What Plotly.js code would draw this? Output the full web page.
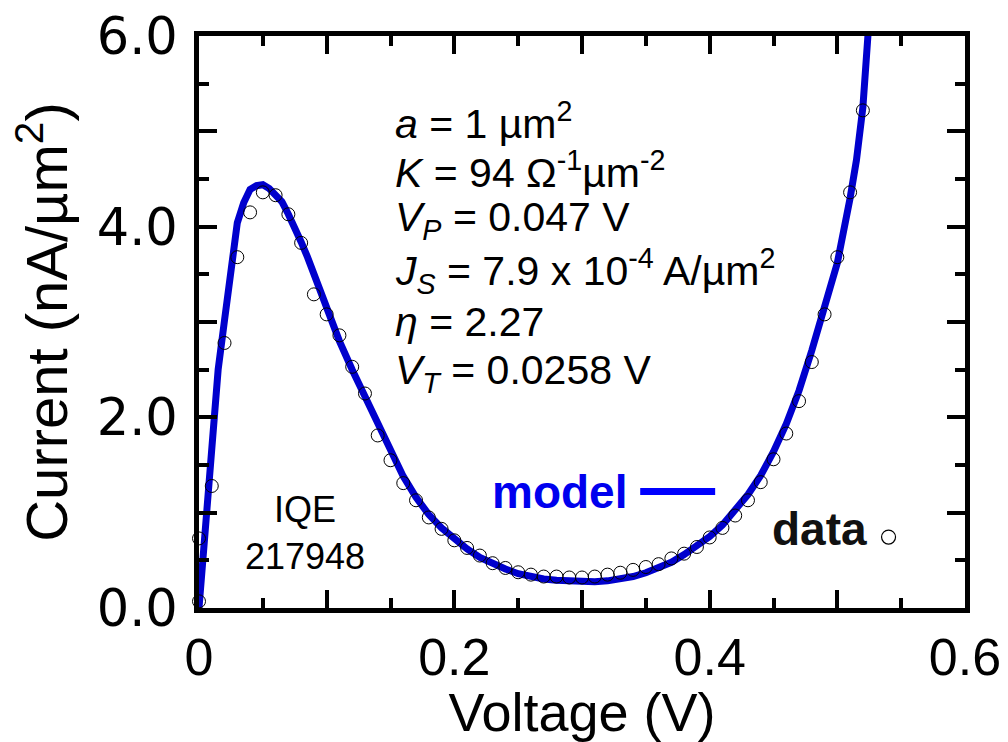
<!DOCTYPE html>
<html>
<head>
<meta charset="utf-8">
<script src="https://cdn.plot.ly/plotly-3.0.1.min.js"></script>
<style>html,body{margin:0;padding:0;background:#fff;}#chart{width:1008px;height:742px;}</style>
</head>
<body>
<div id="chart"></div>
<script>
// Measured data (Voltage in V, Current in nA/µm²)
const dataV = [0, 0, 0.01, 0.02, 0.03, 0.04, 0.05, 0.06, 0.07, 0.08, 0.09, 0.10, 0.11, 0.12, 0.13, 0.14, 0.15, 0.16, 0.17, 0.18, 0.19, 0.20, 0.21, 0.22, 0.23, 0.24, 0.25, 0.26, 0.27, 0.28, 0.29, 0.30, 0.31, 0.32, 0.33, 0.34, 0.35, 0.36, 0.37, 0.38, 0.39, 0.40, 0.41, 0.42, 0.43, 0.44, 0.45, 0.46, 0.47, 0.48, 0.49, 0.50, 0.51, 0.52];
const dataJ = [0.07, 0.73, 1.28, 2.78, 3.68, 4.15, 4.36, 4.33, 4.13, 3.83, 3.29, 3.08, 2.86, 2.53, 2.25, 1.81, 1.55, 1.31, 1.13, 0.95, 0.83, 0.71, 0.63, 0.55, 0.47, 0.42, 0.375, 0.35, 0.33, 0.33, 0.32, 0.32, 0.33, 0.35, 0.37, 0.40, 0.43, 0.46, 0.52, 0.57, 0.64, 0.74, 0.84, 0.97, 1.13, 1.32, 1.56, 1.83, 2.17, 2.58, 3.08, 3.68, 4.36, 5.22];

// Model curve
const modelV = [0, 0.005, 0.01, 0.015, 0.02, 0.025, 0.03, 0.035, 0.04, 0.045, 0.05, 0.055, 0.06, 0.065, 0.07, 0.075, 0.08, 0.085, 0.09, 0.095, 0.10, 0.11, 0.12, 0.13, 0.14, 0.15, 0.16, 0.17, 0.18, 0.19, 0.20, 0.21, 0.22, 0.23, 0.24, 0.25, 0.26, 0.27, 0.28, 0.29, 0.30, 0.31, 0.32, 0.33, 0.34, 0.35, 0.36, 0.37, 0.38, 0.39, 0.40, 0.41, 0.42, 0.43, 0.44, 0.45, 0.46, 0.47, 0.48, 0.49, 0.50, 0.51, 0.515, 0.52, 0.525];
const modelJ = [0, 0.82, 1.75, 2.5, 3.02, 3.55, 4.04, 4.25, 4.39, 4.43, 4.44, 4.40, 4.34, 4.26, 4.13, 4.00, 3.84, 3.68, 3.50, 3.31, 3.12, 2.80, 2.50, 2.21, 1.92, 1.63, 1.38, 1.16, 0.98, 0.84, 0.72, 0.62, 0.53, 0.46, 0.41, 0.36, 0.33, 0.305, 0.29, 0.28, 0.275, 0.275, 0.285, 0.30, 0.33, 0.37, 0.42, 0.48, 0.56, 0.65, 0.75, 0.87, 1.02, 1.19, 1.39, 1.64, 1.93, 2.28, 2.70, 3.18, 3.62, 4.30, 4.70, 5.25, 6.2];

// Tick labels
const xTickVals = [0, 0.1, 0.2, 0.3, 0.4, 0.5, 0.6];
const xTickText = ['0', '', '0.2', '', '0.4', '', '0.6'];
const yTickVals = [0, 1, 2, 3, 4, 5, 6];
const yTickText = ['0.0', '', '2.0', '', '4.0', '', '6.0'];

const paramLines = [
  '<i>a</i> = 1 µm<sup>2</sup>',
  '<i>K</i> = 94 Ω<sup>-1</sup>µm<sup>-2</sup>',
  '<i>V<sub>P</sub></i> = 0.047 V',
  '<i>J<sub>S</sub></i> = 7.9 x 10<sup>-4</sup> A/µm<sup>2</sup>',
  '<i>η</i> = 2.27',
  '<i>V<sub>T</sub></i> = 0.0258 V'
];

const L = 198.5, R = 965, T = 36, B = 608.5;
const px2x = p => (p - L) / (R - L);
const py2y = p => (B - p) / (B - T);

const traces = [
  {x: modelV, y: modelJ, mode: 'lines', type: 'scatter', name: 'model',
   line: {color: '#0000cd', width: 7}, hoverinfo: 'skip'},
  {x: dataV, y: dataJ, mode: 'markers', type: 'scatter', name: 'data', cliponaxis: false,
   marker: {symbol: 'circle-open', size: 13, color: '#000', line: {width: 1, color: '#000'}}}
];

const paramY = [121, 170, 220, 271, 322, 373];
const annotations = paramLines.map((t, i) => ({
  text: t, xref: 'paper', yref: 'paper', x: px2x(393), y: py2y(paramY[i]),
  xanchor: 'left', yanchor: 'middle', showarrow: false,
  font: {family: 'Liberation Sans, Arial, sans-serif', size: 41, color: '#000'}
}));
annotations.push({text: 'IQE<br>217948', xref: 'paper', yref: 'paper', x: px2x(305), y: py2y(533),
  xanchor: 'center', yanchor: 'middle', showarrow: false, align: 'center',
  font: {family: 'Liberation Sans, Arial, sans-serif', size: 36, color: '#000'}});
annotations.push({text: '<b>model</b>', xref: 'paper', yref: 'paper', x: px2x(629), y: py2y(492),
  xanchor: 'right', yanchor: 'middle', showarrow: false,
  font: {family: 'Liberation Sans, Arial, sans-serif', size: 46, color: '#0000ee'}});
annotations.push({text: '<b>data</b>', xref: 'paper', yref: 'paper', x: px2x(869), y: py2y(529),
  xanchor: 'right', yanchor: 'middle', showarrow: false,
  font: {family: 'Liberation Sans, Arial, sans-serif', size: 46, color: '#111'}});

const shapes = [
  {type: 'line', xref: 'paper', yref: 'paper', x0: px2x(640), x1: px2x(715), y0: py2y(492), y1: py2y(492),
   line: {color: '#0000ff', width: 7}},
  {type: 'circle', xref: 'paper', yref: 'paper', x0: px2x(881.5), x1: px2x(895.5), y0: py2y(544.5), y1: py2y(530.5),
   line: {color: '#000', width: 1.2}}
];

const axisCommon = {
  showline: true, linewidth: 5, linecolor: '#000', mirror: 'allticks',
  ticks: 'inside', ticklen: 18, tickwidth: 4, tickcolor: '#000',
  showgrid: false, zeroline: false, tickmode: 'array', fixedrange: true
};

const layout = {
  width: 1008, height: 742,
  margin: {l: L, r: 1008 - R, t: T, b: 742 - B, pad: 0},
  paper_bgcolor: '#fff', plot_bgcolor: '#fff', showlegend: false,
  xaxis: Object.assign({}, axisCommon, {
    range: [0, 0.6], tickvals: xTickVals, ticktext: xTickText,
    tickfont: {family: 'Liberation Sans, Arial, sans-serif', size: 52, color: '#000'},
    minor: {tickmode: 'linear', tick0: 0, dtick: 0.05, ticks: 'inside', ticklen: 10, tickwidth: 4, tickcolor: '#000'},
    title: {text: 'Voltage (V)', standoff: 2, font: {family: 'Liberation Sans, Arial, sans-serif', size: 54, color: '#000'}}
  }),
  yaxis: Object.assign({}, axisCommon, {
    range: [0, 6], tickvals: yTickVals, ticktext: yTickText,
    tickfont: {family: 'DejaVu Sans, sans-serif', size: 51, color: '#000'},
    ticklabelstandoff: 6,
    minor: {tickmode: 'linear', tick0: 0, dtick: 0.5, ticks: 'inside', ticklen: 10, tickwidth: 4, tickcolor: '#000'},
    title: {text: 'Current (nA/µm<sup>2</sup>)', standoff: 12, font: {family: 'Liberation Sans, Arial, sans-serif', size: 58, color: '#000'}}
  }),
  annotations: annotations, shapes: shapes
};

Plotly.newPlot('chart', traces, layout, {displayModeBar: false, staticPlot: true});
</script>
</body>
</html>
